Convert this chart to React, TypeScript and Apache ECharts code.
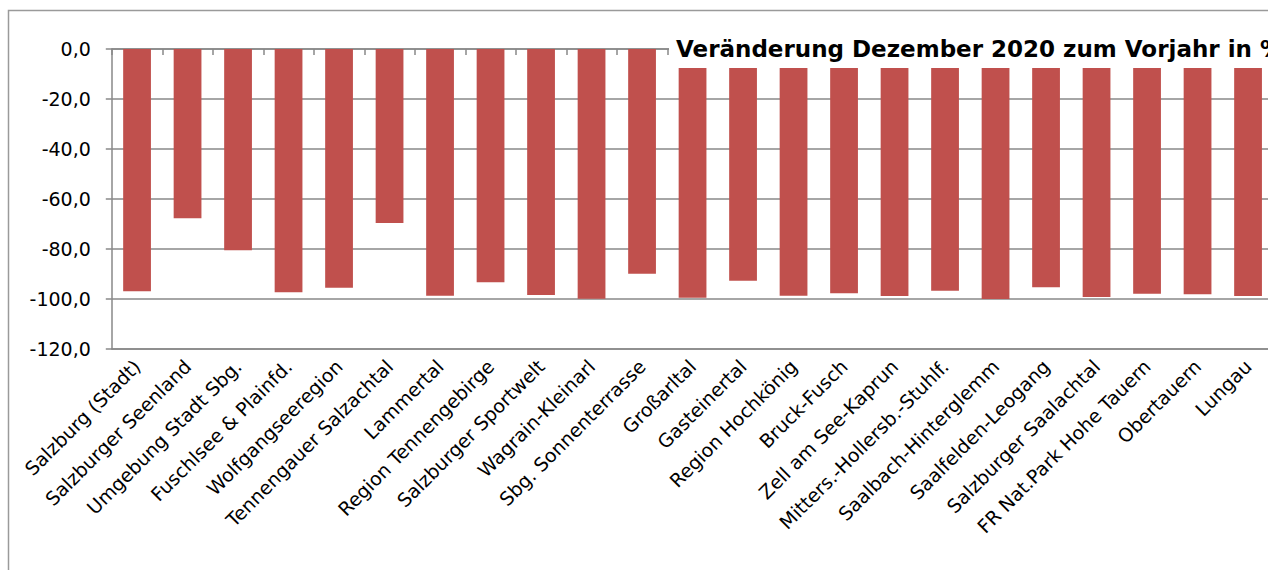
import React, { useEffect, useRef } from "react";
import * as echarts from "echarts";

const categories: string[] = [
  "Salzburg (Stadt)",
  "Salzburger Seenland",
  "Umgebung Stadt Sbg.",
  "Fuschlsee & Plainfd.",
  "Wolfgangseeregion",
  "Tennengauer Salzachtal",
  "Lammertal",
  "Region Tennengebirge",
  "Salzburger Sportwelt",
  "Wagrain-Kleinarl",
  "Sbg. Sonnenterrasse",
  "Großarltal",
  "Gasteinertal",
  "Region Hochkönig",
  "Bruck-Fusch",
  "Zell am See-Kaprun",
  "Mitters.-Hollersb.-Stuhlf.",
  "Saalbach-Hinterglemm",
  "Saalfelden-Leogang",
  "Salzburger Saalachtal",
  "FR Nat.Park Hohe Tauern",
  "Obertauern",
  "Lungau",
];

const changeValues: number[] = [
  -96.9, -67.7, -80.5, -97.3, -95.5, -69.6, -98.7, -93.3, -98.4, -99.9, -89.9,
  -99.5, -92.7, -98.7, -97.7, -98.8, -96.7, -100.0, -95.3, -99.2, -97.9, -98.1,
  -98.8,
];

const titleText = "Veränderung Dezember 2020 zum Vorjahr in %";
const yMin = -120;
const yMax = 0;
const yInterval = 20;

const FONT = "'DejaVu Sans', sans-serif";

export default function App() {
  const ref = useRef<HTMLDivElement>(null);

  useEffect(() => {
    if (!ref.current) return;
    const chart = echarts.init(ref.current, undefined, { renderer: "svg" });
    chart.setOption({
      animation: false,
      backgroundColor: "#ffffff",
      grid: {
        left: 111.8,
        top: 49,
        width: 1161.5,
        height: 300,
        containLabel: false,
        outerBoundsMode: "none",
      },
      xAxis: [
        {
          type: "category",
          data: categories,
          position: "bottom",
          axisLine: { show: true, onZero: false, lineStyle: { color: "#888888", width: 1.5 } },
          axisTick: { show: false },
          axisLabel: {
            interval: 0,
            rotate: 45,
            margin: 14,
            fontSize: 19,
            fontFamily: FONT,
            color: "#000000",
          },
        },
        {
          type: "category",
          data: categories,
          position: "top",
          axisLine: { show: true, onZero: false, lineStyle: { color: "#888888", width: 1.5 } },
          axisTick: {
            show: true,
            inside: true,
            interval: 0,
            length: 6,
            lineStyle: { color: "#888888", width: 1.5 },
          },
          axisLabel: { show: false, interval: 0 },
        },
      ],
      yAxis: {
        type: "value",
        min: yMin,
        max: yMax,
        interval: yInterval,
        axisLine: { show: true, lineStyle: { color: "#888888", width: 1.5 } },
        axisTick: { show: true, length: 6, lineStyle: { color: "#888888", width: 1.5 } },
        splitLine: { show: true, lineStyle: { color: "#888888", width: 1.5 } },
        axisLabel: {
          margin: 21,
          fontSize: 19,
          fontFamily: FONT,
          color: "#000000",
          formatter: (v: number) => v.toFixed(1).replace(".", ","),
        },
      },
      series: [
        {
          type: "bar",
          data: changeValues,
          barWidth: "55%",
          itemStyle: { color: "#C0504D" },
        },
      ],
      graphic: [
        {
          type: "rect",
          z: 100,
          shape: { x: 669, y: 28, width: 700, height: 40 },
          style: { fill: "#ffffff" },
        },
        {
          type: "text",
          z: 101,
          x: 676,
          y: 49,
          style: {
            text: titleText,
            font: `bold 23px ${FONT}`,
            fill: "#000000",
            verticalAlign: "middle",
          },
        },
        {
          type: "rect",
          z: 102,
          shape: { x: 8.5, y: 10.5, width: 1400, height: 700 },
          style: { fill: "none", stroke: "#9a9a9a", lineWidth: 1.5 },
        },
      ],
    });
    return () => chart.dispose();
  }, []);

  return (
    <div
      ref={ref}
      style={{ position: "fixed", left: 0, top: 0, width: 1268, height: 570 }}
    />
  );
}
